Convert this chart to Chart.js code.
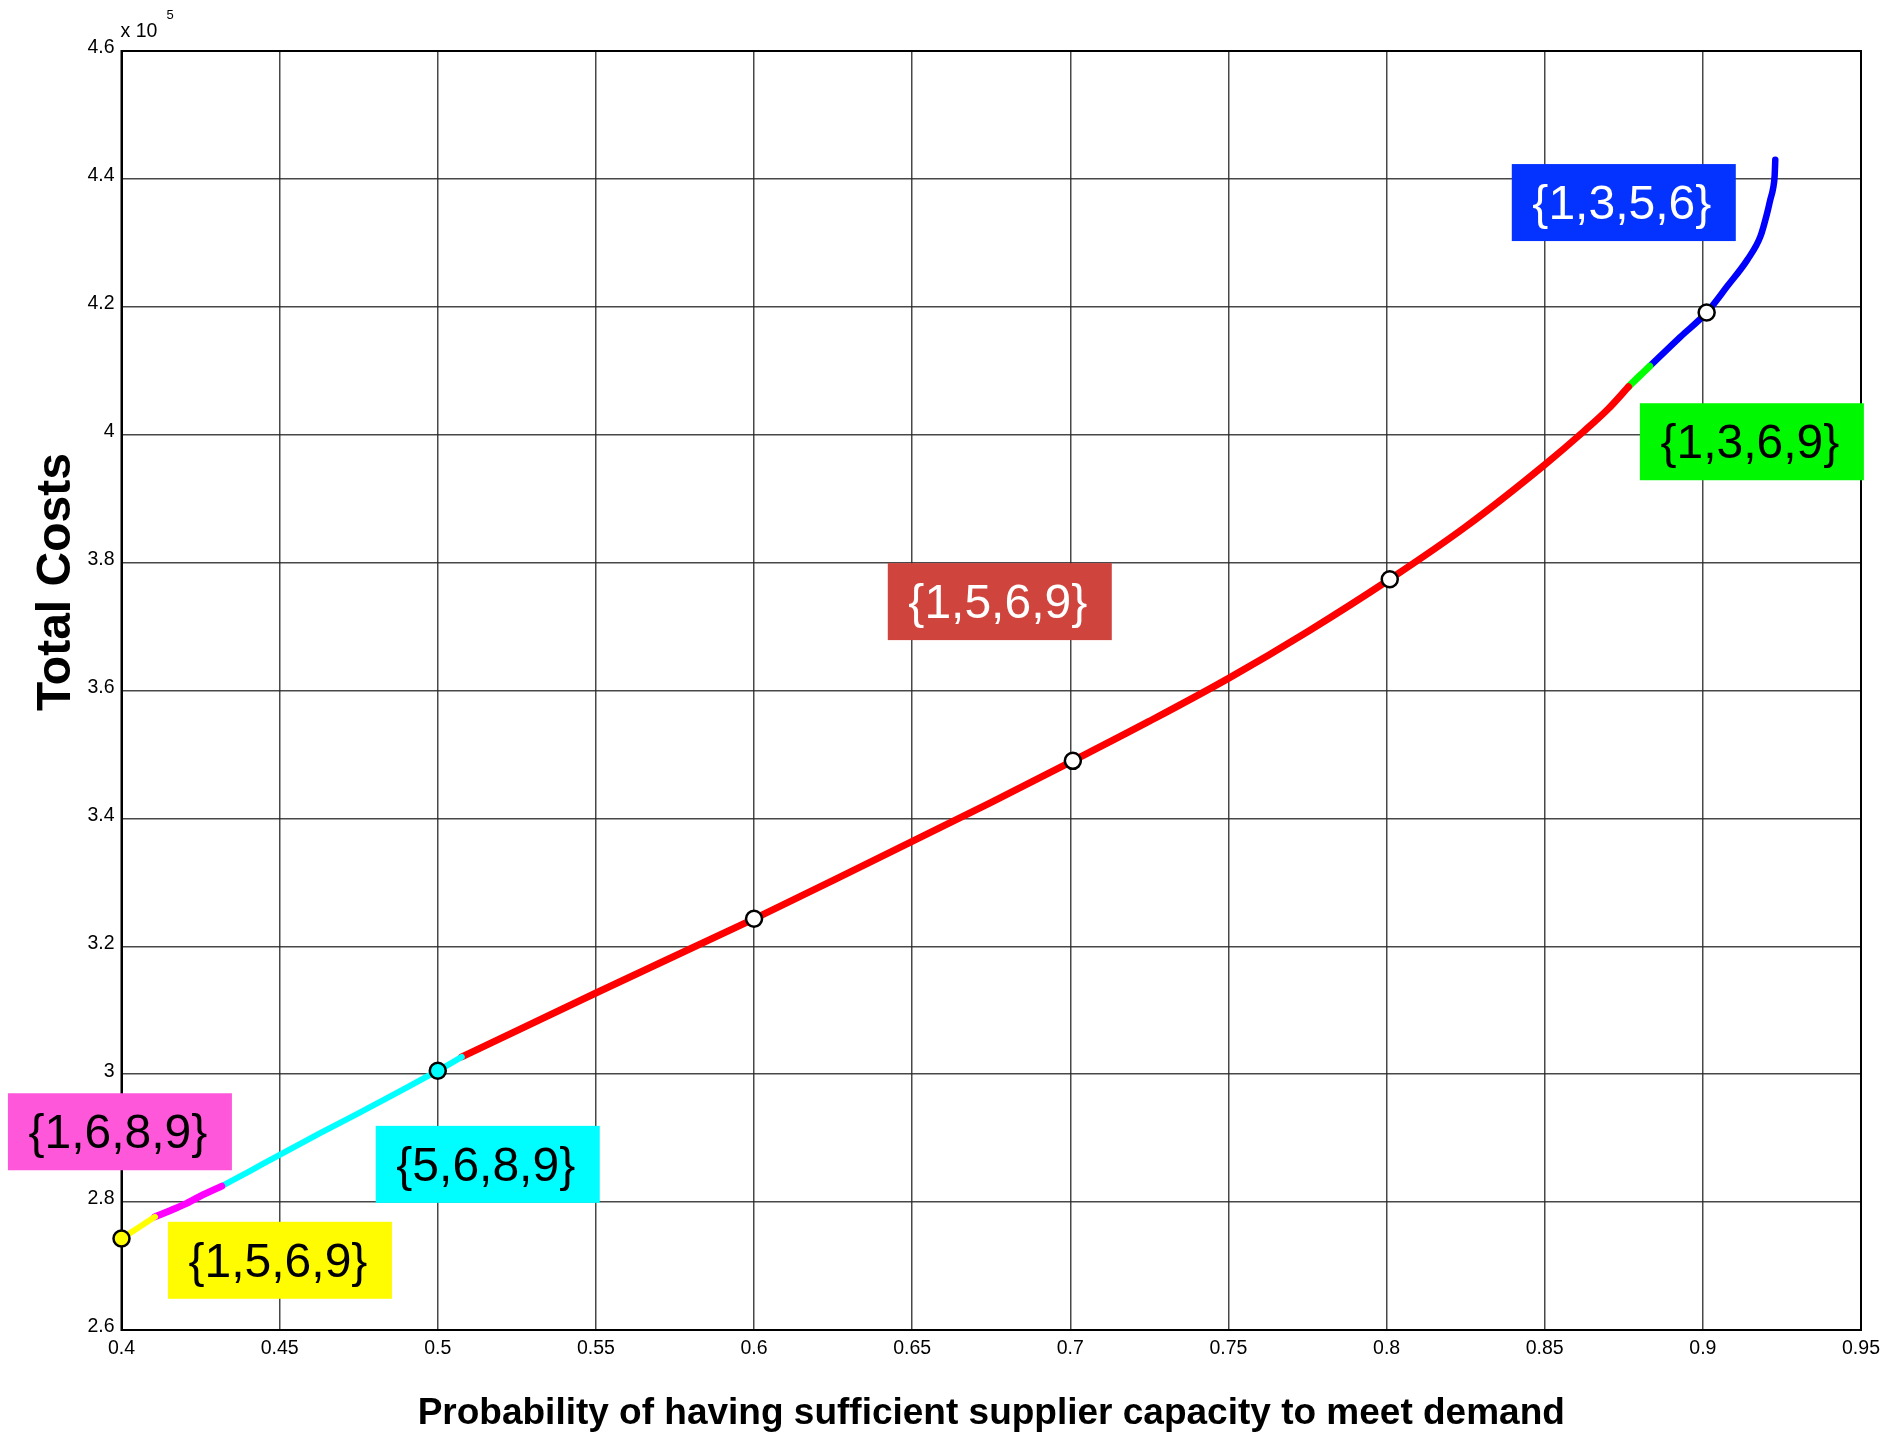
<!DOCTYPE html>
<html>
<head>
<meta charset="utf-8">
<title>Total costs vs. probability of sufficient supplier capacity</title>
<script src="https://cdn.jsdelivr.net/npm/chart.js@4.4.1/dist/chart.umd.min.js"></script>
<style>
  html, body { margin: 0; padding: 0; background: #ffffff; }
  #wrap { width: 1904px; height: 1437px; position: relative; }
</style>
</head>
<body>
<div id="wrap"><canvas id="frontier" width="1904" height="1437"></canvas></div>
<script>
// Axis ticks
const xTicks = [0.4, 0.45, 0.5, 0.55, 0.6, 0.65, 0.7, 0.75, 0.8, 0.85, 0.9, 0.95];
const yTicks = [260000, 280000, 300000, 320000, 340000, 360000, 380000, 400000, 420000, 440000, 460000];

// Efficient frontier, split by the supplier set that is optimal on each stretch
const probYellow = [0.4, 0.4053, 0.4106];
const costYellow = [274300, 276000, 277700];

const probMagenta = [0.4106, 0.4160, 0.4206, 0.4260, 0.4317];
const costMagenta = [277700, 278800, 279800, 281200, 282500];

const probCyan = [0.4317, 0.44, 0.45, 0.4625, 0.475, 0.4875, 0.5, 0.5076];
const costCyan = [282500, 284700, 287400, 290700, 293900, 297200, 300550, 302700];

const probRed = [0.5076, 0.55, 0.6, 0.625, 0.65, 0.675, 0.7008, 0.725, 0.75, 0.775, 0.801, 0.825, 0.85, 0.8623, 0.87, 0.8765];
const costRed = [302700, 312700, 324300, 330300, 336400, 342500, 349000, 355200, 361900, 369200, 377400, 385600, 395300, 400500, 404000, 407500];

const probGreen = [0.8765, 0.8800, 0.8832];
const costGreen = [407500, 409200, 410700];

const probBlue = [0.8832, 0.8929, 0.9012, 0.9077, 0.9140, 0.9182, 0.9203, 0.9213, 0.9222, 0.9227, 0.9229];
const costBlue = [410700, 415300, 419100, 423200, 427300, 431000, 434600, 436700, 438500, 440500, 443000];

// Highlighted points on the frontier
const probMarked = [0.4, 0.5, 0.6, 0.7008, 0.801, 0.9012];
const costMarked = [274300, 300550, 324300, 349000, 377400, 419100];

// Supplier-set captions
const setNames = ['{1,3,5,6}', '{1,3,6,9}', '{1,5,6,9}', '{1,6,8,9}', '{5,6,8,9}', '{1,5,6,9}'];

const FONT = '"Liberation Sans", Arial, Helvetica, sans-serif';

const toPoints = (xs, ys) => xs.map((v, i) => ({ x: v, y: ys[i] }));

function segment(xs, ys, color, width) {
  return {
    data: toPoints(xs, ys),
    showLine: true,
    borderColor: color,
    backgroundColor: color,
    borderWidth: width,
    pointRadius: 0,
    pointHoverRadius: 0,
    cubicInterpolationMode: 'monotone',
    borderCapStyle: 'round',
    borderJoinStyle: 'round',
    order: 1
  };
}

// Caption boxes, anchored at their centre in data coordinates
const captionStyle = [
  { at: [0.875, 436300], fill: '#0433ff', ink: '#ffffff' },
  { at: [0.9155, 398900], fill: '#00f900', ink: '#000000' },
  { at: [0.6777, 373900], fill: '#cf443d', ink: '#ffffff' },
  { at: [0.3995, 291000], fill: '#ff57d9', ink: '#000000' },
  { at: [0.5158, 285900], fill: '#00fdff', ink: '#000000' },
  { at: [0.4501, 270900], fill: '#fffb00', ink: '#000000' }
];

const captionPlugin = {
  id: 'setCaptions',
  afterDatasetsDraw(chart) {
    const { ctx, scales } = chart;
    ctx.save();
    captionStyle.forEach((c, i) => {
      const cx = scales.x.getPixelForValue(c.at[0]);
      const cy = scales.y.getPixelForValue(c.at[1]);
      const w = 224, h = 77;
      ctx.fillStyle = c.fill;
      ctx.fillRect(cx - w / 2, cy - h / 2, w, h);
      ctx.fillStyle = c.ink;
      ctx.font = '48px ' + FONT;
      ctx.textAlign = 'center';
      ctx.textBaseline = 'middle';
      ctx.fillText(setNames[i], cx - 2, cy + 3);
    });
    ctx.restore();
  }
};

// Black box round the plotting area
const framePlugin = {
  id: 'axesFrame',
  beforeDatasetsDraw(chart) {
    const { ctx, chartArea: a } = chart;
    ctx.save();
    ctx.strokeStyle = '#000000';
    ctx.lineWidth = 2;
    ctx.strokeRect(a.left, a.top, a.right - a.left, a.bottom - a.top);
    ctx.restore();
  }
};

// Y axis title and the exponent marker above the axis
const annotatePlugin = {
  id: 'axisNotes',
  afterDraw(chart) {
    const { ctx, chartArea: a } = chart;
    ctx.save();
    ctx.fillStyle = '#000000';
    ctx.textAlign = 'left';
    ctx.textBaseline = 'alphabetic';
    ctx.font = '19.5px ' + FONT;
    ctx.fillText('x 10', a.left - 1, a.top - 14);
    ctx.font = '13px ' + FONT;
    ctx.fillText('5', a.left + 45, a.top - 32);

    ctx.translate(57, 582);
    ctx.rotate(-Math.PI / 2);
    ctx.font = 'bold 48px ' + FONT;
    ctx.textAlign = 'center';
    ctx.textBaseline = 'middle';
    ctx.fillText('Total Costs', 0, 0);
    ctx.restore();
  }
};

const gridColor = 'rgba(40,40,40,0.85)';

new Chart(document.getElementById('frontier'), {
  type: 'scatter',
  data: {
    datasets: [
      segment(probYellow, costYellow, '#ffff00', 6),
      segment(probMagenta, costMagenta, '#ff00ff', 7),
      segment(probCyan, costCyan, '#00ffff', 6),
      segment(probRed, costRed, '#ff0000', 7),
      segment(probGreen, costGreen, '#00ff00', 7),
      segment(probBlue, costBlue, '#0000ff', 6.5),
      {
        data: toPoints(probMarked, costMarked),
        showLine: false,
        pointRadius: 8,
        pointHoverRadius: 8,
        pointBorderWidth: 2.5,
        pointBorderColor: '#000000',
        pointBackgroundColor: ['#ffff00', '#00ffff', '#ffffff', '#ffffff', '#ffffff', '#ffffff'],
        clip: false,
        order: 0
      }
    ]
  },
  options: {
    responsive: false,
    animation: false,
    devicePixelRatio: 1,
    layout: { padding: { left: 0, top: 51, right: 43, bottom: 0 } },
    plugins: {
      legend: { display: false },
      tooltip: { enabled: false }
    },
    scales: {
      x: {
        type: 'linear',
        min: 0.4,
        max: 0.95,
        afterBuildTicks: s => { s.ticks = xTicks.map(v => ({ value: v })); },
        afterFit: s => { s.height = 107; },
        ticks: {
          callback: v => String(+v.toFixed(2)),
          font: { family: FONT, size: 19.5 },
          color: '#000000',
          padding: 7,
          maxRotation: 0,
          autoSkip: false
        },
        grid: { color: gridColor, lineWidth: 1.5, drawTicks: false },
        border: { display: true, color: '#000000', width: 2 },
        title: {
          display: true,
          text: 'Probability of having sufficient supplier capacity to meet demand',
          font: { family: FONT, size: 37, weight: 'bold' },
          color: '#000000',
          padding: { top: 0, bottom: 1 }
        }
      },
      y: {
        type: 'linear',
        min: 260000,
        max: 460000,
        afterBuildTicks: s => { s.ticks = yTicks.map(v => ({ value: v })); },
        afterFit: s => { s.width = 121.5; },
        ticks: {
          callback: v => String(+(v / 1e5).toFixed(1)),
          font: { family: FONT, size: 19.5 },
          color: '#000000',
          padding: 7,
          labelOffset: -3,
          autoSkip: false
        },
        grid: { color: gridColor, lineWidth: 1.5, drawTicks: false },
        border: { display: true, color: '#000000', width: 2 }
      }
    }
  },
  plugins: [framePlugin, captionPlugin, annotatePlugin]
});
</script>
</body>
</html>
